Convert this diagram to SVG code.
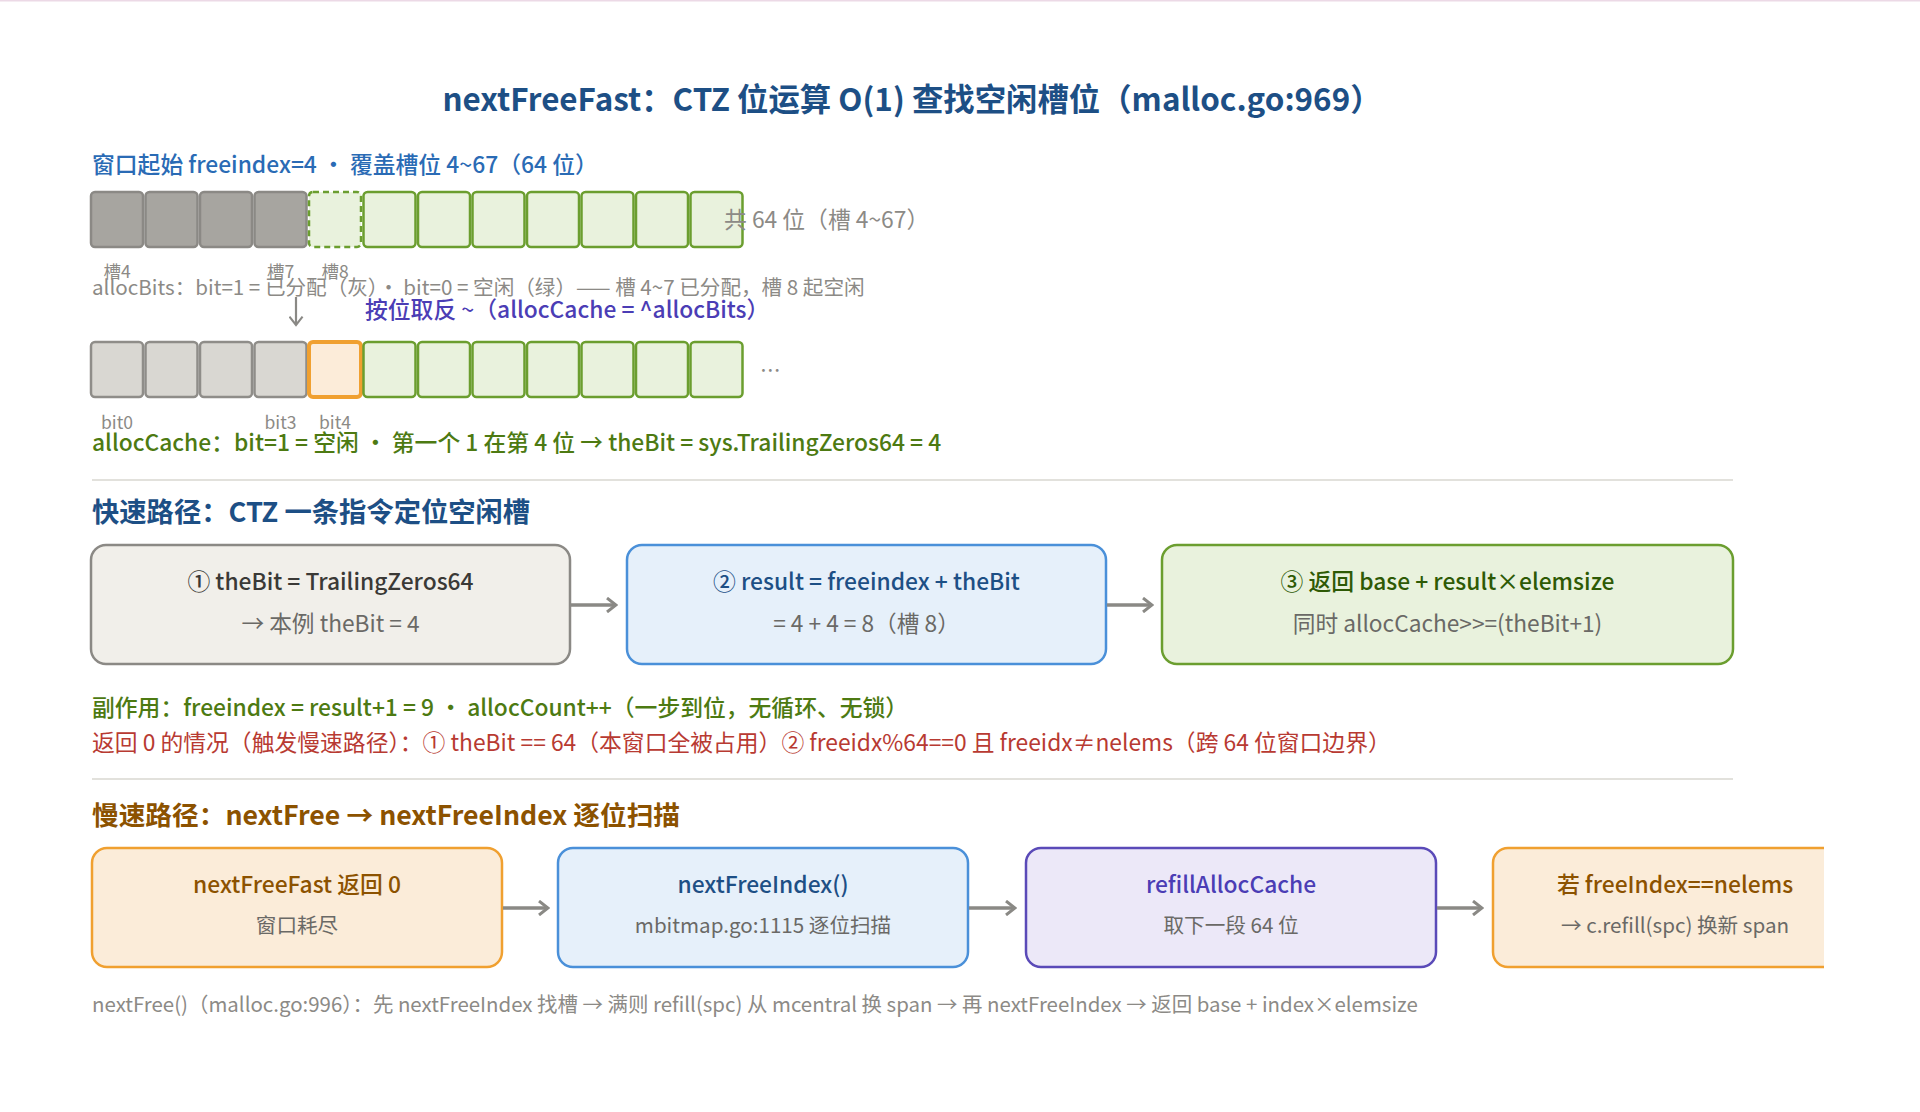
<svg xmlns="http://www.w3.org/2000/svg" width="1920" height="1112" viewBox="0 0 1920 1112">
<defs>
<style>
text{font-family:"Noto Sans CJK SC","Noto Sans",sans-serif}
.c-dk{fill:#a7a5a0;stroke:#8b8985;stroke-width:2.5}
.c-lt{fill:#d9d7d2;stroke:#8f8d89;stroke-width:2.5}
.c-gr{fill:#e9f2dd;stroke:#6b9e2f;stroke-width:2.5}
.c-gd{fill:#e9f2dd;stroke:#6b9e2f;stroke-width:2.5;stroke-dasharray:6 4}
.c-or{fill:#fcecd9;stroke:#f0a030;stroke-width:4}
.lbl{font-size:17.5px;fill:#8c8a86;text-anchor:middle}
.sm{font-size:20.6px}
.lg{font-size:22.8px}
.box{stroke-width:2.5}
.t1{font-size:22.8px;font-weight:500;text-anchor:middle}
.t2{font-size:22.7px;fill:#6a6966;text-anchor:middle}
.t2s{font-size:20.6px;fill:#6a6966;text-anchor:middle}
.conn{stroke:#8a8985;stroke-width:3.5;fill:none}
</style>
<marker id="ah" viewBox="0 0 12 16" refX="10" refY="8" markerWidth="12" markerHeight="16" markerUnits="userSpaceOnUse" orient="auto">
<path d="M1,1 L10,8 L1,15" fill="none" stroke="#8a8985" stroke-width="3"/>
</marker>
<marker id="ahs" viewBox="0 0 12 16" refX="10" refY="8" markerWidth="12" markerHeight="15" markerUnits="userSpaceOnUse" orient="auto">
<path d="M1,1 L10,8 L1,15" fill="none" stroke="#8a8985" stroke-width="2.2"/>
</marker>
<clipPath id="clipR"><rect x="0" y="0" width="1824" height="1112"/></clipPath>
</defs>
<rect width="1920" height="1112" fill="#ffffff"/>
<rect x="0" y="0" width="1920" height="1.5" fill="#ecd9e6"/>

<text x="912" y="111" text-anchor="middle" font-size="31.4" font-weight="700" fill="#1d4f85">nextFreeFast：CTZ 位运算 O(1) 查找空闲槽位（malloc.go:969）</text>

<g id="bits-row">
<text x="92" y="173" class="lg" font-weight="500" fill="#2a6bb5">窗口起始 freeindex=4 · 覆盖槽位 4~67（64 位）</text>
<rect class="c-dk" x="91" y="192" width="52" height="55" rx="4"/>
<rect class="c-dk" x="145.5" y="192" width="52" height="55" rx="4"/>
<rect class="c-dk" x="200" y="192" width="52" height="55" rx="4"/>
<rect class="c-dk" x="254.5" y="192" width="52" height="55" rx="4"/>
<rect class="c-gd" x="309" y="192" width="52" height="55" rx="4"/>
<rect class="c-gr" x="363.5" y="192" width="52" height="55" rx="4"/>
<rect class="c-gr" x="418" y="192" width="52" height="55" rx="4"/>
<rect class="c-gr" x="472.5" y="192" width="52" height="55" rx="4"/>
<rect class="c-gr" x="527" y="192" width="52" height="55" rx="4"/>
<rect class="c-gr" x="581.5" y="192" width="52" height="55" rx="4"/>
<rect class="c-gr" x="636" y="192" width="52" height="55" rx="4"/>
<rect class="c-gr" x="690.5" y="192" width="52" height="55" rx="4"/>
<text x="724" y="228" class="lg" fill="#8c8a86">共 64 位（槽 4~67）</text>
<text x="117" y="278" class="lbl">槽4</text>
<text x="280.5" y="278" class="lbl">槽7</text>
<text x="335" y="278" class="lbl" fill="#6b7a10">槽8</text>
<text x="92" y="295" class="sm" fill="#8c8a86">allocBits：bit=1 = 已分配（灰）· bit=0 = 空闲（绿）—— 槽 4~7 已分配，槽 8 起空闲</text>
</g>

<g id="invert-note">
<text x="365" y="318" class="lg" font-weight="500" fill="#4b3db5">按位取反 ~（allocCache = ^allocBits）</text>
</g>

<g id="cache-row">
<rect class="c-lt" x="91" y="342" width="52" height="55" rx="4"/>
<rect class="c-lt" x="145.5" y="342" width="52" height="55" rx="4"/>
<rect class="c-lt" x="200" y="342" width="52" height="55" rx="4"/>
<rect class="c-lt" x="254.5" y="342" width="52" height="55" rx="4"/>
<rect class="c-or" x="309" y="342" width="52" height="55" rx="4"/>
<rect class="c-gr" x="363.5" y="342" width="52" height="55" rx="4"/>
<rect class="c-gr" x="418" y="342" width="52" height="55" rx="4"/>
<rect class="c-gr" x="472.5" y="342" width="52" height="55" rx="4"/>
<rect class="c-gr" x="527" y="342" width="52" height="55" rx="4"/>
<rect class="c-gr" x="581.5" y="342" width="52" height="55" rx="4"/>
<rect class="c-gr" x="636" y="342" width="52" height="55" rx="4"/>
<rect class="c-gr" x="690.5" y="342" width="52" height="55" rx="4"/>
<text x="760" y="378" class="sm" fill="#8c8a86">…</text>
<text x="117" y="429" class="lbl">bit0</text>
<text x="280.5" y="429" class="lbl">bit3</text>
<text x="335" y="429" class="lbl" fill="#9a5a10">bit4</text>
<text x="92" y="451" class="lg" font-weight="500" fill="#4d7a12">allocCache：bit=1 = 空闲 · 第一个 1 在第 4 位 → theBit = sys.TrailingZeros64 = 4</text>
</g>

<line x1="92" y1="480" x2="1733" y2="480" stroke="#e2e1dc" stroke-width="2"/>
<text x="92" y="522" font-size="27.3" font-weight="700" fill="#1d4f85">快速路径：CTZ 一条指令定位空闲槽</text>

<g id="fast1">
<rect class="box" x="91" y="545" width="479" height="119" rx="15" fill="#f1efea" stroke="#8b8985"/>
<text x="330.5" y="590" class="t1" fill="#3a3936">① theBit = TrailingZeros64</text>
<text x="330.5" y="632" class="t2">→ 本例 theBit = 4</text>
</g>
<g id="fast2">
<rect class="box" x="627" y="545" width="479" height="119" rx="15" fill="#e6f0fa" stroke="#4a90d9"/>
<text x="866.5" y="590" class="t1" fill="#1d4f85">② result = freeindex + theBit</text>
<text x="866.5" y="632" class="t2">= 4 + 4 = 8（槽 8）</text>
</g>
<g id="fast3">
<rect class="box" x="1162" y="545" width="571" height="119" rx="15" fill="#e9f2dd" stroke="#6b9e2f"/>
<text x="1447.5" y="590" class="t1" fill="#2e5a05">③ 返回 base + result×elemsize</text>
<text x="1447.5" y="632" class="t2">同时 allocCache&gt;&gt;=(theBit+1)</text>
</g>

<text x="92" y="716" class="lg" font-weight="500" fill="#4d7a12">副作用：freeindex = result+1 = 9 · allocCount++（一步到位，无循环、无锁）</text>
<text x="92" y="751" class="lg" fill="#b83a32">返回 0 的情况（触发慢速路径）：① theBit == 64（本窗口全被占用）② freeidx%64==0 且 freeidx≠nelems（跨 64 位窗口边界）</text>

<line x1="92" y1="779" x2="1733" y2="779" stroke="#e2e1dc" stroke-width="2"/>
<text x="92" y="825" font-size="26.7" font-weight="700" fill="#8c5200">慢速路径：nextFree → nextFreeIndex 逐位扫描</text>

<g id="slow1">
<rect class="box" x="92" y="848" width="410" height="119" rx="15" fill="#fbecd9" stroke="#f0a030"/>
<text x="297" y="893" class="t1" fill="#8c5200">nextFreeFast 返回 0</text>
<text x="297" y="933" class="t2s">窗口耗尽</text>
</g>
<g id="slow2">
<rect class="box" x="558" y="848" width="410" height="119" rx="15" fill="#e6f0fa" stroke="#4a90d9"/>
<text x="763" y="893" class="t1" fill="#1d4f85">nextFreeIndex()</text>
<text x="763" y="933" class="t2s">mbitmap.go:1115 逐位扫描</text>
</g>
<g id="slow3">
<rect class="box" x="1026" y="848" width="410" height="119" rx="15" fill="#ece8f8" stroke="#5a4ab8"/>
<text x="1231" y="893" class="t1" fill="#4b3db5">refillAllocCache</text>
<text x="1231" y="933" class="t2s">取下一段 64 位</text>
</g>
<g id="slow4" clip-path="url(#clipR)">
<rect class="box" x="1493" y="848" width="410" height="119" rx="15" fill="#fbecd9" stroke="#f0a030"/>
<text x="1675" y="893" class="t1" fill="#8c5200">若 freeIndex==nelems</text>
<text x="1675" y="933" class="t2s">→ c.refill(spc) 换新 span</text>
</g>

<text x="92" y="1012" font-size="20.45" fill="#8c8a86">nextFree()（malloc.go:996）：先 nextFreeIndex 找槽 → 满则 refill(spc) 从 mcentral 换 span → 再 nextFreeIndex → 返回 base + index×elemsize</text>

<g id="connectors">
<line x1="296" y1="297" x2="296" y2="325" stroke="#8a8985" stroke-width="2.2" marker-end="url(#ahs)"/>
<line class="conn" x1="571" y1="605" x2="616" y2="605" marker-end="url(#ah)"/>
<line class="conn" x1="1107" y1="605" x2="1152" y2="605" marker-end="url(#ah)"/>
<line class="conn" x1="503" y1="908" x2="548" y2="908" marker-end="url(#ah)"/>
<line class="conn" x1="969" y1="908" x2="1015" y2="908" marker-end="url(#ah)"/>
<line class="conn" x1="1437" y1="908" x2="1482" y2="908" marker-end="url(#ah)"/>
</g>
</svg>
